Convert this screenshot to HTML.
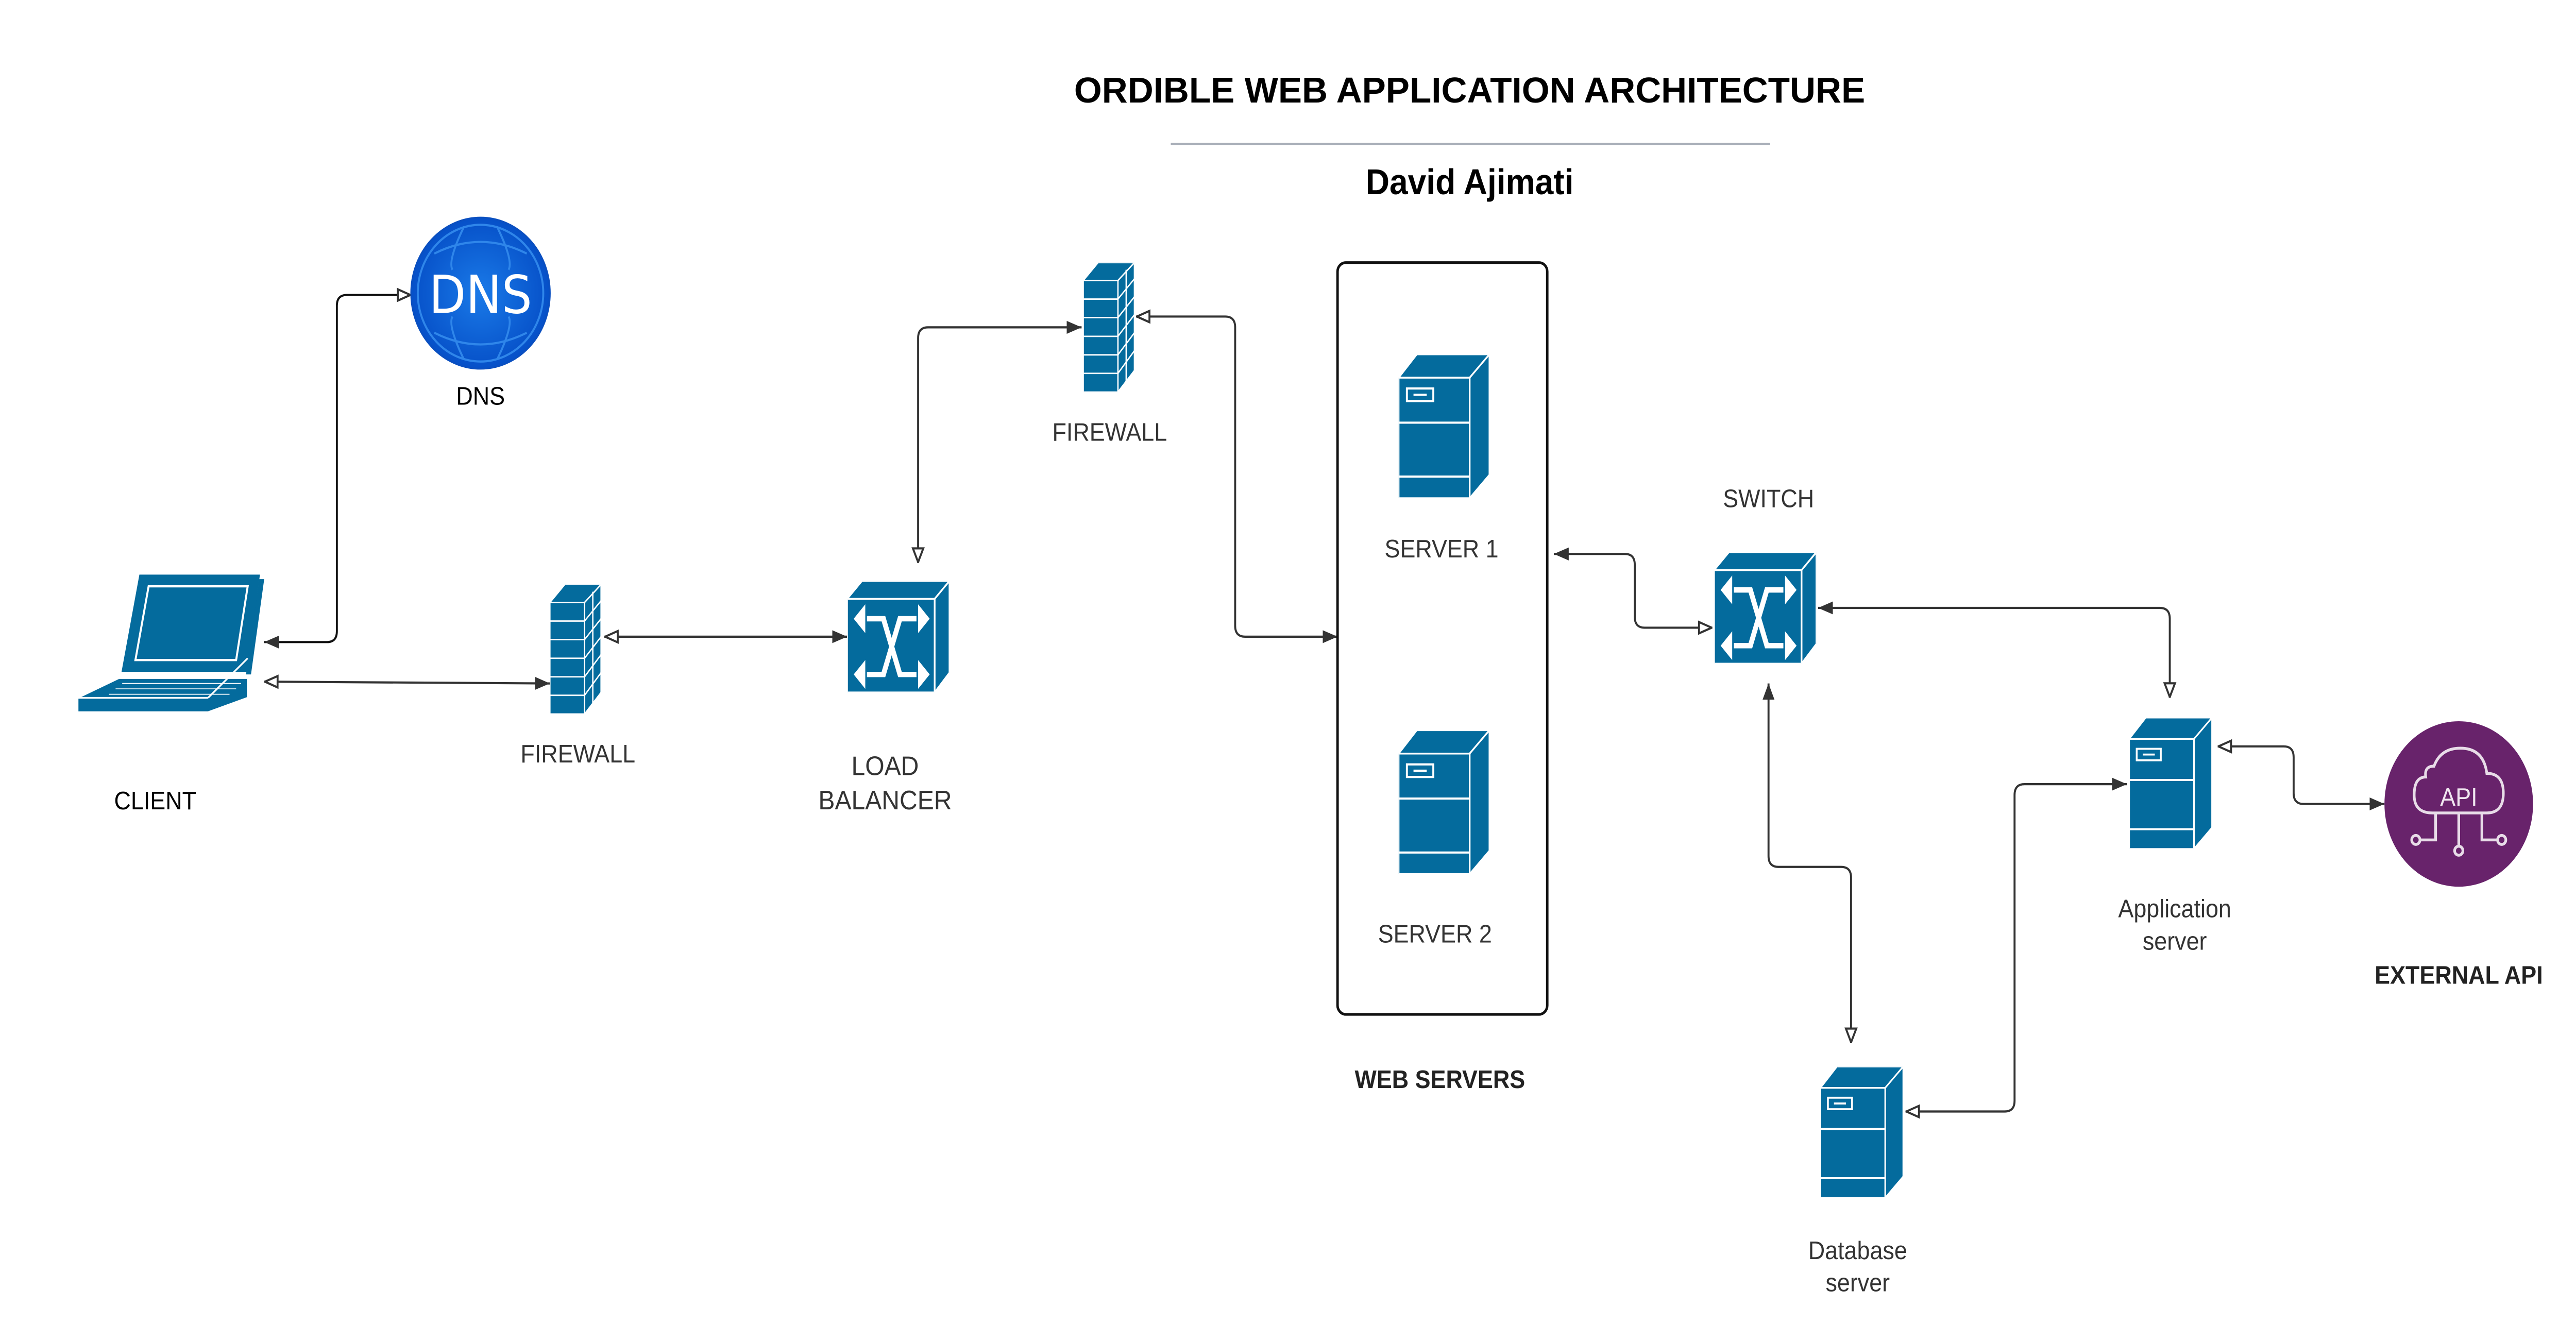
<!DOCTYPE html>
<html><head><meta charset="utf-8"><style>html,body{margin:0;padding:0;background:#fff;width:100%;height:100%;overflow:hidden}svg{display:block;width:100vw;height:100vh}</style></head>
<body>
<svg xmlns="http://www.w3.org/2000/svg" viewBox="0 0 1560 745.6" preserveAspectRatio="none" font-family="Liberation Sans, Arial, sans-serif">
<defs>
<marker id="f" viewBox="0 0 10 10" refX="10" refY="5" markerWidth="9" markerHeight="9" markerUnits="userSpaceOnUse" orient="auto-start-reverse"><path d="M0,1 L10,5 L0,9 Z" fill="#333"/></marker>
<marker id="o" viewBox="0 0 10 10" refX="10" refY="5" markerWidth="9" markerHeight="9" markerUnits="userSpaceOnUse" orient="auto-start-reverse"><path d="M1,1.5 L9.5,5 L1,8.5 Z" fill="#fff" stroke="#333" stroke-width="1.3"/></marker>
<symbol id="srv" viewBox="0 0 55 80">
<g fill="#046b9d" stroke="#fff" stroke-width="1">
<polygon points="0,13 11,0 55,0 43,13"/>
<polygon points="43,13 55,0 55,67 43,80"/>
<rect x="0" y="13" width="43" height="67"/>
</g>
<g stroke="#fff" stroke-width="1.2" fill="none">
<line x1="0" y1="38" x2="43" y2="38"/><line x1="0" y1="68" x2="43" y2="68"/>
<rect x="5" y="19" width="16" height="7"/><line x1="9" y1="22.5" x2="17" y2="22.5"/>
</g>
</symbol>
<symbol id="fw" viewBox="0 0 31 72">
<g fill="#046b9d" stroke="#fff" stroke-width="0.8">
<polygon points="0,10 9,0 31,0 21,10"/>
<polygon points="21,10 31,0 31,60 21,72"/>
<rect x="0" y="10" width="21" height="62"/>
</g>
<g stroke="#fff" stroke-width="0.8">
<line x1="0" y1="20.3" x2="21" y2="20.3"/><line x1="0" y1="30.6" x2="21" y2="30.6"/><line x1="0" y1="41" x2="21" y2="41"/><line x1="0" y1="51.3" x2="21" y2="51.3"/><line x1="0" y1="61.6" x2="21" y2="61.6"/>
<line x1="21" y1="20.3" x2="31" y2="9"/><line x1="21" y1="30.6" x2="31" y2="19"/><line x1="21" y1="41" x2="31" y2="29"/><line x1="21" y1="51.3" x2="31" y2="39"/><line x1="21" y1="61.6" x2="31" y2="49"/>
<line x1="26" y1="4" x2="26" y2="66"/>
</g>
</symbol>
<symbol id="sw" viewBox="0 0 62 62">
<g fill="#046b9d" stroke="#fff" stroke-width="1">
<polygon points="0,10 9,0 62,0 53,10"/>
<polygon points="53,10 62,0 62,51 53,62"/>
<rect x="0" y="10" width="53" height="52"/>
</g>
<g stroke="#fff" stroke-width="3" fill="none">
<path d="M12,21 L22,21 L32,52 L42,52"/><path d="M12,52 L22,52 L32,21 L42,21"/>
</g>
<g fill="#fff">
<polygon points="4,21 11,13 11,29"/><polygon points="50,21 43,13 43,29"/>
<polygon points="4,52 11,44 11,60"/><polygon points="50,52 43,44 43,60"/>
</g>
</symbol>
<radialGradient id="dg" cx="0.5" cy="0.5" r="0.5"><stop offset="0" stop-color="#1a7ae8"/><stop offset="1" stop-color="#0650c8"/></radialGradient>
</defs>

<text x="890" y="57" text-anchor="middle" font-size="20" font-weight="bold" textLength="479" lengthAdjust="spacingAndGlyphs">ORDIBLE WEB APPLICATION ARCHITECTURE</text>
<line x1="709" y1="80" x2="1072" y2="80" stroke="#a8aeb8" stroke-width="1.2"/>
<text x="890" y="108" text-anchor="middle" font-size="20" font-weight="bold">David Ajimati</text>

<g fill="none" stroke="#333" stroke-width="1.2">
<path d="M160,357 L198,357 Q204,357 204,351 L204,170 Q204,164 210,164 L249,164" marker-start="url(#f)" marker-end="url(#o)" stroke="#111"/>
<path d="M160,379 L333,380" marker-start="url(#o)" marker-end="url(#f)"/>
<path d="M366,354 L513,354" marker-start="url(#o)" marker-end="url(#f)"/>
<path d="M556,313 L556,188 Q556,182 562,182 L655,182" marker-start="url(#o)" marker-end="url(#f)"/>
<path d="M688,176 L742,176 Q748,176 748,182 L748,348 Q748,354 754,354 L810,354" marker-start="url(#o)" marker-end="url(#f)"/>
<path d="M941,308 L984,308 Q990,308 990,314 L990,343 Q990,349 996,349 L1037,349" marker-start="url(#f)" marker-end="url(#o)"/>
<path d="M1101,338 L1308,338 Q1314,338 1314,344 L1314,388" marker-start="url(#f)" marker-end="url(#o)"/>
<path d="M1071,380 L1071,476 Q1071,482 1077,482 L1115,482 Q1121,482 1121,488 L1121,580" marker-start="url(#f)" marker-end="url(#o)"/>
<path d="M1154,618 L1214,618 Q1220,618 1220,612 L1220,442 Q1220,436 1226,436 L1288,436" marker-start="url(#o)" marker-end="url(#f)"/>
<path d="M1343,415 L1383,415 Q1389,415 1389,421 L1389,441 Q1389,447 1395,447 L1444,447" marker-start="url(#o)" marker-end="url(#f)"/>
</g>

<circle cx="291" cy="163" r="42" fill="url(#dg)" stroke="#0a4fc0" stroke-width="1"/>
<g fill="none" stroke="#2f86ea" stroke-width="1.2">
<circle cx="291" cy="163" r="38"/>
<path d="M263,141 Q291,128 319,141"/><path d="M263,185 Q291,198 319,185"/>
<path d="M281,126 Q271,145 274,150"/><path d="M301,126 Q311,145 308,150"/>
<path d="M281,200 Q271,181 274,176"/><path d="M301,200 Q311,181 308,176"/>
</g>
<text x="291" y="174" text-anchor="middle" font-size="29" fill="#fff" font-family="DejaVu Sans, sans-serif">DNS</text>
<text x="291" y="225" text-anchor="middle" font-size="14">DNS</text>

<g>
<polygon points="84,319 158,319 150,374 73,374" fill="#046b9d" stroke="#fff" stroke-width="1"/>
<polygon points="157,322 160,322 152,375 149,375" fill="#046b9d"/>
<polygon points="90,326 150,326 143,367 82,367" fill="#046b9d" stroke="#fff" stroke-width="1.2"/>
<polygon points="72,377 150,377 150,388 126,396 47,396 47,388" fill="#046b9d" stroke="#fff" stroke-width="1"/>
<line x1="47" y1="388" x2="126" y2="388" stroke="#fff" stroke-width="1"/>
<line x1="126" y1="388" x2="150" y2="366" stroke="#fff" stroke-width="1"/>
<g stroke="#fff" stroke-width="0.5">
<line x1="74" y1="380" x2="146" y2="380"/><line x1="70" y1="383" x2="143" y2="383"/><line x1="66" y1="386" x2="139" y2="386"/>
</g>
</g>
<text x="94" y="450" text-anchor="middle" font-size="14">CLIENT</text>

<use href="#fw" x="333" y="325" width="31" height="72"/>
<text x="350" y="424" text-anchor="middle" font-size="14" fill="#333">FIREWALL</text>

<use href="#sw" x="513" y="323" width="62" height="62"/>
<text x="536" y="431" text-anchor="middle" font-size="15" fill="#333">LOAD</text>
<text x="536" y="450" text-anchor="middle" font-size="15" fill="#333">BALANCER</text>

<use href="#fw" x="656" y="146" width="31" height="72"/>
<text x="672" y="245" text-anchor="middle" font-size="14" fill="#333">FIREWALL</text>

<rect x="810" y="146" width="127" height="418" rx="5" fill="none" stroke="#111" stroke-width="1.5"/>
<use href="#srv" x="847" y="197" width="55" height="80"/>
<text x="873" y="310" text-anchor="middle" font-size="14" fill="#333">SERVER 1</text>
<use href="#srv" x="847" y="406" width="55" height="80"/>
<text x="869" y="524" text-anchor="middle" font-size="14" fill="#333">SERVER 2</text>
<text x="872" y="605" text-anchor="middle" font-size="14" font-weight="bold" fill="#222">WEB SERVERS</text>

<use href="#sw" x="1038" y="307" width="62" height="62"/>
<text x="1071" y="282" text-anchor="middle" font-size="14" fill="#333">SWITCH</text>

<use href="#srv" x="1289" y="399" width="51" height="73"/>
<text x="1317" y="510" text-anchor="middle" font-size="14" fill="#333">Application</text>
<text x="1317" y="528" text-anchor="middle" font-size="14" fill="#333">server</text>

<use href="#srv" x="1102" y="593" width="51" height="73"/>
<text x="1125" y="700" text-anchor="middle" font-size="14" fill="#333">Database</text>
<text x="1125" y="718" text-anchor="middle" font-size="14" fill="#333">server</text>

<ellipse cx="1489" cy="447" rx="45" ry="46" fill="#68236b"/>
<g fill="none" stroke="#e8dce8" stroke-width="1.6">
<path d="M1469,432 Q1468,426 1474,426 Q1478,416 1490,416 Q1504,416 1506,430 Q1516,430 1516,441 Q1516,452 1506,452 L1473,452 Q1462,452 1462,442 Q1462,432 1469,432 Z"/>
<path d="M1475,452 L1475,467 L1466,467"/><circle cx="1463" cy="467" r="2.5"/>
<path d="M1489,452 L1489,470"/><circle cx="1489" cy="473" r="2.5"/>
<path d="M1503,452 L1503,467 L1512,467"/><circle cx="1515" cy="467" r="2.5"/>
</g>
<text x="1489" y="448" text-anchor="middle" font-size="14" fill="#f0e6f0">API</text>
<text x="1489" y="547" text-anchor="middle" font-size="14" font-weight="bold" fill="#222">EXTERNAL API</text>
</svg>
</body></html>
